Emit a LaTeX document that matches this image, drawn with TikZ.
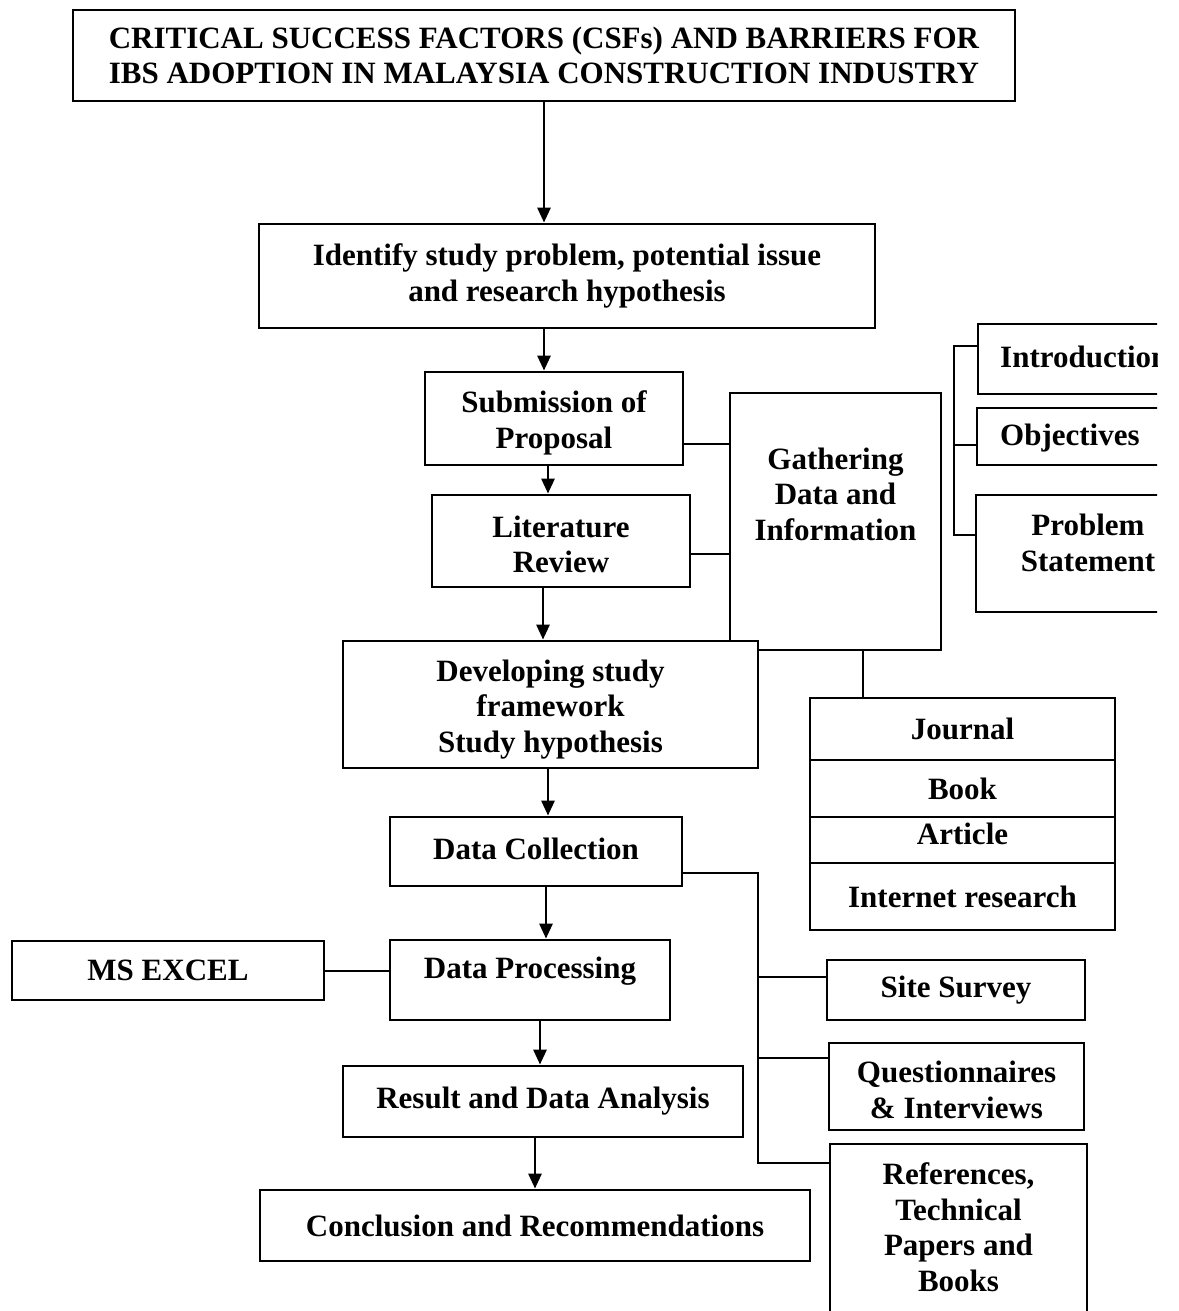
\documentclass[tikz,border=0pt]{standalone}
\usepackage{fontspec}
\setmainfont{Liberation Serif}
\usetikzlibrary{arrows.meta}
\begin{document}
\begin{tikzpicture}[x=1pt,y=-1pt,
  lw/.style={line width=2.8pt},
  box/.style={draw, lw, fill=white, inner sep=0pt, align=center, font=\fontsize{31}{35.5}\selectfont\bfseries},
  txt/.style={inner sep=0pt, align=center, font=\fontsize{31}{35.5}\selectfont\bfseries},
  conn/.style={lw},
  arr/.style={lw, -{Triangle[length=15pt,width=13pt]}},
]
\useasboundingbox (0,0) rectangle (1178,1311);
\clip (0,0) rectangle (1178,1311);
\fill[white] (0,0) rectangle (1178,1311);

% helper coordinates
\foreach \v in {535,540,543,544,546,548,758,863,954}{\coordinate (X\v) at (\v,0);}
\foreach \v in {346,444,445,535,554,873,971,977,1058,1163}{\coordinate (Y\v) at (0,\v);}

% main column
\node[box, minimum width=942pt, minimum height=91pt] (title) at (544,55.5)
  {CRITICAL SUCCESS FACTORS (CSFs) AND BARRIERS FOR\\IBS ADOPTION IN MALAYSIA CONSTRUCTION INDUSTRY};
\node[box, minimum width=616pt, minimum height=104pt] (iden) at (567,276)
  {Identify study problem, potential issue\\and research hypothesis};
\node[box, minimum width=258pt, minimum height=93pt] (sub) at (554,418.5) {};
\node[txt] (subtext) at (554,423) {Submission of\\Proposal};
\node[box, minimum width=258pt, minimum height=92pt] (lit) at (561,541) {};
\node[txt] (littext) at (561,544.5) {Literature\\Review};

% gathering box (drawn before the developing box, which overlaps it)
\node[box, minimum width=211pt, minimum height=257pt] (gath) at (835.5,521.5) {};
\node[txt] (gathtext) at (835.5,494) {Gathering\\Data and\\Information};

\node[box, minimum width=415pt, minimum height=127pt] (dev) at (550.5,704.5) {};
\node[txt] (devtext) at (550.5,709.5) {Developing study\\framework\\Study hypothesis};
\node[box, minimum width=292pt, minimum height=69pt] (dc) at (536,851.5) {};
\node[txt] (dctext) at (536,849) {Data Collection};
\node[box, minimum width=280pt, minimum height=80pt] (dp) at (530,980) {};
\node[txt] (dptext) at (530,971) {Data Processing};
\node[box, minimum width=312pt, minimum height=59pt] (excel) at (168,970.5) {MS EXCEL};
\node[box, minimum width=400pt, minimum height=71pt] (res) at (543,1101.5) {Result and Data Analysis};
\node[box, minimum width=550pt, minimum height=71pt] (conc) at (535,1225.5) {Conclusion and Recommendations};

% right column (cut at the right)
\begin{scope}
\clip (0,0) rectangle (1157,1311);
\node[box, minimum width=222pt, minimum height=70pt] (intro) at (1089,359) {};
\node[txt, anchor=west] (introtext) at (1000,357) {Introduction};
\node[box, minimum width=223pt, minimum height=57pt] (obj) at (1088.5,436.5) {};
\node[txt, anchor=west] (objtext) at (1000,438) {Objectives};
\node[box, minimum width=224pt, minimum height=117pt] (prob) at (1088,553.5) {};
\node[txt] (probtext) at (1088,543) {Problem\\Statement};
\end{scope}

% sources stack
\node[box, minimum width=305pt, minimum height=62pt] (journal) at (962.5,729) {Journal};
\node[box, minimum width=305pt, minimum height=57pt] (book) at (962.5,788.5) {Book};
\node[box, minimum width=305pt, minimum height=46pt] (article) at (962.5,840) {};
\node[txt] (articletext) at (962.5,834) {Article};
\node[box, minimum width=305pt, minimum height=67pt] (internet) at (962.5,896.5) {Internet research};

\node[box, minimum width=258pt, minimum height=60pt] (site) at (956,990) {Site Survey};
\node[box, minimum width=255pt, minimum height=87pt] (quest) at (956.5,1086.5) {};
\node[txt] (questtext) at (956.5,1090) {Questionnaires\\\& Interviews};
\node[box, minimum width=257pt, minimum height=200pt] (refs) at (958.5,1244) {};
\node[txt] (refstext) at (958.5,1227) {References,\\Technical\\Papers and\\Books};

% arrows down the main column
\draw[arr] (title.south -| X544) -- (iden.north -| X544);
\draw[arr] (iden.south -| X544) -- (sub.north -| X544);
\draw[arr] (sub.south -| X548) -- (lit.north -| X548);
\draw[arr] (lit.south -| X543) -- (dev.north -| X543);
\draw[arr] (dev.south -| X548) -- (dc.north -| X548);
\draw[arr] (dc.south -| X546) -- (dp.north -| X546);
\draw[arr] (dp.south -| X540) -- (res.north -| X540);
\draw[arr] (res.south -| X535) -- (conc.north -| X535);

% plain connectors
\draw[conn] (sub.east |- Y444) -- (gath.west |- Y444);
\draw[conn] (lit.east |- Y554) -- (gath.west |- Y554);
\draw[conn] (gath.south -| X863) -- (journal.north -| X863);
\draw[conn] (intro.west |- Y346) -- (X954 |- Y346) -- (X954 |- Y535) -- (prob.west |- Y535);
\draw[conn] (X954 |- Y445) -- (obj.west |- Y445);
\draw[conn] (dc.east |- Y873) -- (X758 |- Y873) -- (X758 |- Y1163) -- (refs.west |- Y1163);
\draw[conn] (X758 |- Y977) -- (site.west |- Y977);
\draw[conn] (X758 |- Y1058) -- (quest.west |- Y1058);
\draw[conn] (excel.east |- Y971) -- (dp.west |- Y971);
\end{tikzpicture}
\end{document}
